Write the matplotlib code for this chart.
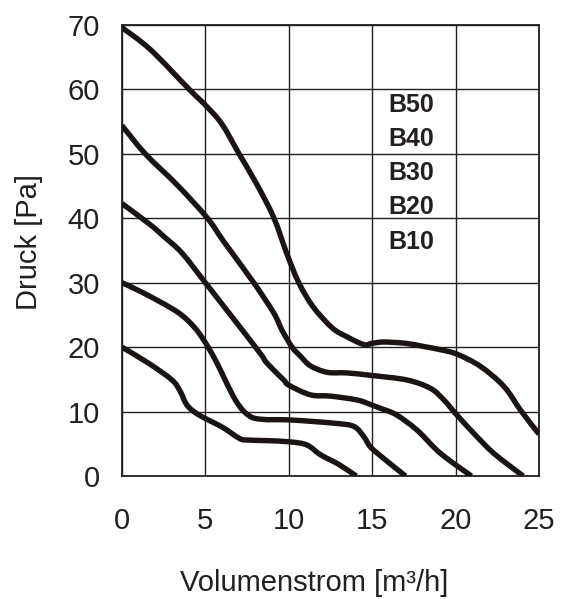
import matplotlib
matplotlib.use("Agg")
import matplotlib.pyplot as plt
from matplotlib.path import Path
from matplotlib.patches import PathPatch

plt.rcParams["font.family"] = ["Liberation Sans", "DejaVu Sans"]

# fan curves: volume flow [m3/h] vs pressure [Pa]
b10_x = [0, 1.6, 3.0, 3.5, 3.9, 4.6, 6.0, 7.0, 7.4, 8.6, 10.1, 11.1, 11.9, 13.0, 14.05]
b10_y = [20, 17.5, 14.9, 13.1, 11.0, 9.5, 7.6, 5.9, 5.6, 5.5, 5.3, 4.8, 3.3, 1.8, 0]

b20_x = [0, 1.3, 3.3, 4.3, 4.9, 5.6, 6.8, 7.6, 8.4, 10.1, 12.7, 13.9, 14.5, 14.9, 15.7, 17.0]
b20_y = [30, 28.4, 25.5, 23.2, 21.1, 18.0, 11.8, 9.4, 8.8, 8.7, 8.2, 7.7, 6.1, 4.5, 2.7, 0]

b30_x = [0, 1.7, 2.5, 3.6, 5.0, 6.9, 8.3, 8.7, 9.7, 10.0, 11.3, 12.5, 14.1, 15.0, 15.5, 16.45, 17.7, 19.1, 20.95]
b30_y = [42.3, 39.0, 37.2, 34.6, 30.0, 23.7, 19.0, 17.5, 14.9, 14.1, 12.6, 12.4, 11.8, 11.0, 10.5, 9.5, 7.1, 3.5, 0]

b40_x = [0, 1.4, 3.3, 5.1, 6.1, 7.9, 9.1, 9.6, 10.2, 10.7, 11.3, 12.3, 13.5, 15.0, 17.1, 18.5, 19.3, 20.0, 21.1, 22.3, 24.05]
b40_y = [54.4, 50.0, 45.2, 40.1, 36.4, 30.0, 25.3, 22.6, 20.0, 18.6, 17.1, 16.1, 16.0, 15.6, 14.9, 13.6, 11.8, 9.7, 6.6, 3.5, 0]

b50_x = [0, 1.7, 4.0, 5.1, 6.0, 7.0, 8.1, 9.1, 9.9, 10.6, 11.45, 12.6, 13.5, 14.5, 15.0, 15.7, 17.0, 18.1, 19.1, 20.1, 21.5, 22.9, 23.9, 25.0]
b50_y = [69.6, 66.2, 60.1, 57.3, 54.6, 50.1, 45.2, 40.1, 34.4, 30.0, 26.3, 23.0, 21.6, 20.4, 20.6, 20.8, 20.6, 20.1, 19.6, 18.9, 17.0, 13.9, 10.2, 6.5]

curves = [(b10_x, b10_y), (b20_x, b20_y), (b30_x, b30_y), (b40_x, b40_y), (b50_x, b50_y)]
labels = ["B50", "B40", "B30", "B20", "B10"]
x_ticks = [0, 5, 10, 15, 20, 25]
y_ticks = [0, 10, 20, 30, 40, 50, 60, 70]

ink = "#1c1412"
text_col = "#231f20"


def smooth_path(xs, ys):
    # Catmull-Rom through the points, written as cubic Bezier segments
    pts = list(zip(xs, ys))
    n = len(pts)
    verts = [pts[0]]
    codes = [Path.MOVETO]
    for i in range(n - 1):
        p0 = pts[i - 1] if i > 0 else pts[i]
        p1 = pts[i]
        p2 = pts[i + 1]
        p3 = pts[i + 2] if i + 2 < n else pts[i + 1]
        c1 = (p1[0] + (p2[0] - p0[0]) / 6, p1[1] + (p2[1] - p0[1]) / 6)
        c2 = (p2[0] - (p3[0] - p1[0]) / 6, p2[1] - (p3[1] - p1[1]) / 6)
        verts += [c1, c2, p2]
        codes += [Path.CURVE4] * 3
    return Path(verts, codes)


fig = plt.figure(figsize=(5.7, 5.99), dpi=100)
ax = fig.add_axes([0.214, 0.2053, 0.7316, 0.7529])

for xs, ys in curves:
    ax.add_patch(PathPatch(smooth_path(xs, ys), fill=False, edgecolor=ink, lw=3.9,
                           capstyle="butt", joinstyle="round", zorder=3, clip_on=True))

ax.set_xlim(0, 25)
ax.set_ylim(0, 70)
ax.set_xticks(x_ticks)
ax.set_yticks(y_ticks)
ax.grid(True, color="#231f20", lw=1.0)
ax.set_axisbelow(True)
for sp in ax.spines.values():
    sp.set_color("#231f20")
    sp.set_linewidth(1.3)
ax.tick_params(axis="both", length=0, labelsize=21, labelcolor=text_col)
ax.tick_params(axis="x", pad=22)
ax.tick_params(axis="y", pad=16)

ax.set_xlabel("Volumenstrom [m³/h]", fontsize=21, color=text_col)
ax.set_ylabel("Druck [Pa]", fontsize=21, color=text_col)
ax.xaxis.set_label_coords(0.46, -0.206)
ax.yaxis.set_label_coords(-0.19, 0.52)

# series names listed top to bottom
for i, name in enumerate(labels):
    ax.text(15.95, 57.6 - i * 5.3, name, fontsize=18, fontweight="bold",
            color=text_col, ha="left", va="center", zorder=4)

fig.savefig("out.png", dpi=100)
